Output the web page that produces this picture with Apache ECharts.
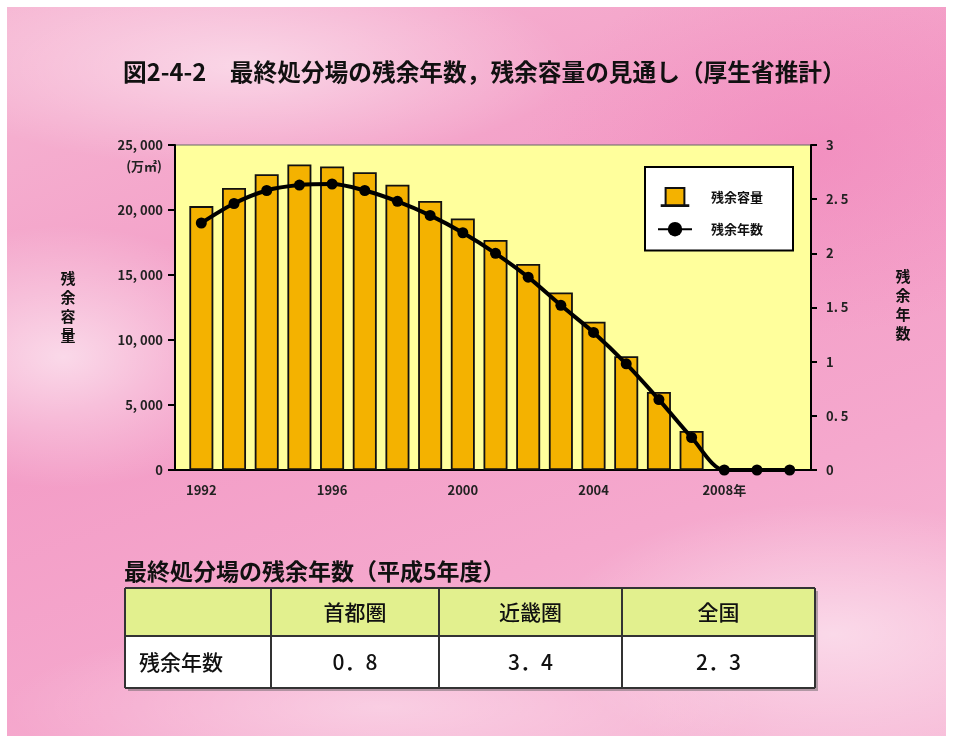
<!DOCTYPE html>
<html lang="ja">
<head>
<meta charset="utf-8">
<title>最終処分場の残余年数，残余容量の見通し</title>
<script src="https://cdn.jsdelivr.net/npm/echarts@6/dist/echarts.min.js"></script>
<style>
  html, body { margin: 0; padding: 0; background: #fff; }
  #frame {
    position: absolute; left: 7px; top: 7px; width: 939px; height: 729px;
    background:
      radial-gradient(ellipse 22% 18% at 6% 48%, rgba(255,255,255,0.6), rgba(255,255,255,0) 100%),
      radial-gradient(ellipse 35% 14% at 25% 8%, rgba(255,255,255,0.5), rgba(255,255,255,0) 100%),
      radial-gradient(ellipse 30% 18% at 88% 86%, rgba(255,255,255,0.5), rgba(255,255,255,0) 100%),
      radial-gradient(ellipse 40% 12% at 40% 96%, rgba(255,255,255,0.4), rgba(255,255,255,0) 100%),
      radial-gradient(ellipse 30% 25% at 85% 20%, rgba(240,120,180,0.35), rgba(240,120,180,0) 100%),
      linear-gradient(160deg, #f6b6d3 0%, #f39cc6 40%, #f5a8cd 70%, #f7bcd8 100%);
  }
  #chart { position: absolute; left: 0; top: 0; width: 956px; height: 740px; }
</style>
</head>
<body>
<div id="frame"></div>
<div id="chart"></div>
<script>
// Fiscal years on the horizontal axis
const years = ['1992', '1993', '1994', '1995', '1996', '1997', '1998', '1999', '2000',
               '2001', '2002', '2003', '2004', '2005', '2006', '2007', '2008', '2009', '2010'];

// Remaining capacity of final disposal sites (万㎡)
const capacity = [20300, 21700, 22750, 23500, 23350, 22900, 21950, 20700, 19350,
                  17700, 15850, 13650, 11400, 8750, 6000, 3000, null, null, null];

// Remaining years of final disposal sites
const remainingYears = [2.28, 2.46, 2.58, 2.63, 2.64, 2.58, 2.48, 2.35, 2.19,
                        2.00, 1.78, 1.52, 1.27, 0.98, 0.65, 0.30, 0, 0, 0];

// Labels shown under the category axis
const xTickLabels = { '1992': '1992', '1996': '1996', '2000': '2000', '2004': '2004', '2008': '2008年' };

// Table: remaining years by region (平成5年度)
const tableRegions = ['首都圏', '近畿圏', '全国'];
const tableValues = [0.8, 3.4, 2.3];

const FONT = '"Noto Sans CJK JP", "Noto Sans", sans-serif';
const chart = echarts.init(document.getElementById('chart'), null, { renderer: 'canvas' });

// Plot frame (yellow area) and data grid
const plot = { left: 175, top: 145, width: 636, height: 325 };
const dataGrid = { left: 185, top: 145, width: 621, height: 325 };

// Table geometry
const colX = [125, 271, 439, 622, 815];
const rowY = [588, 636, 688];

function fmtFull(v) { return String(v).replace('.', '．'); }

const tableGraphics = [];
tableGraphics.push({
  type: 'rect', shape: { x: colX[0] + 3, y: rowY[0] + 3, width: colX[4] - colX[0], height: rowY[2] - rowY[0] },
  style: { fill: 'rgba(90,90,90,0.45)' }, z: 10
});
tableGraphics.push({
  type: 'rect', shape: { x: colX[0], y: rowY[0], width: colX[4] - colX[0], height: rowY[1] - rowY[0] },
  style: { fill: '#e2f08e' }, z: 11
});
tableGraphics.push({
  type: 'rect', shape: { x: colX[0], y: rowY[1], width: colX[4] - colX[0], height: rowY[2] - rowY[1] },
  style: { fill: '#ffffff' }, z: 11
});
// cell borders
for (let i = 0; i < colX.length; i++) {
  tableGraphics.push({ type: 'line', shape: { x1: colX[i], y1: rowY[0], x2: colX[i], y2: rowY[2] },
    style: { stroke: '#333', lineWidth: 2 }, z: 12 });
}
for (let j = 0; j < rowY.length; j++) {
  tableGraphics.push({ type: 'line', shape: { x1: colX[0], y1: rowY[j], x2: colX[4], y2: rowY[j] },
    style: { stroke: '#333', lineWidth: 2 }, z: 12 });
}
tableRegions.forEach(function (name, i) {
  const cx = (colX[i + 1] + colX[i + 2]) / 2;
  tableGraphics.push({ type: 'text', x: cx, y: (rowY[0] + rowY[1]) / 2, z: 13,
    style: { text: name, font: '500 21px ' + FONT, fill: '#111', align: 'center', verticalAlign: 'middle' } });
  tableGraphics.push({ type: 'text', x: cx, y: (rowY[1] + rowY[2]) / 2, z: 13,
    style: { text: fmtFull(tableValues[i]), font: '500 21px ' + FONT, fill: '#111', align: 'center', verticalAlign: 'middle' } });
});
tableGraphics.push({ type: 'text', x: 139, y: (rowY[1] + rowY[2]) / 2, z: 13,
  style: { text: '残余年数', font: '500 21px ' + FONT, fill: '#111', align: 'left', verticalAlign: 'middle' } });
tableGraphics.push({ type: 'text', x: 124, y: 571, z: 13,
  style: { text: '最終処分場の残余年数（平成5年度）', font: 'bold 23px ' + FONT, fill: '#111', align: 'left', verticalAlign: 'middle' } });

const option = {
  backgroundColor: 'transparent',
  animation: false,
  title: {
    text: '図2-4-2　最終処分場の残余年数，残余容量の見通し（厚生省推計）',
    left: 118, top: 55,
    textStyle: { fontFamily: FONT, fontSize: 23.7, fontWeight: 'bold', color: '#111' }
  },
  legend: {
    left: 645, top: 167, orient: 'vertical',
    backgroundColor: '#ffffff', borderColor: '#000', borderWidth: 2,
    padding: [20, 30, 14, 12],
    itemWidth: 34, itemHeight: 18, itemGap: 15,
    textStyle: { fontFamily: FONT, fontSize: 13, fontWeight: 'bold', color: '#111', padding: [0, 0, 0, 14] },
    data: [
      { name: '残余容量', icon: 'path://M5,0 H29 V22 H5 Z M0,22 H34 V23 H0 Z' },
      { name: '残余年数' }
    ]
  },
  grid: [
    Object.assign({ show: false }, dataGrid),
    Object.assign({ show: true, backgroundColor: '#ffff9c', borderColor: '#666', borderWidth: 1 }, plot)
  ],
  xAxis: [
    {
      type: 'category', gridIndex: 0, data: years,
      axisLine: { show: false }, axisTick: { show: false },
      axisLabel: {
        interval: 0, margin: 14, color: '#222', fontFamily: FONT, fontSize: 13, fontWeight: 'bold',
        formatter: function (v) { return xTickLabels[v] || ''; }
      }
    },
    {
      type: 'value', gridIndex: 1, min: 0, max: 1,
      axisLine: { show: true, lineStyle: { color: '#000', width: 2 } },
      axisTick: { show: false }, axisLabel: { show: false }, splitLine: { show: false }
    }
  ],
  yAxis: [
    { type: 'value', gridIndex: 0, min: 0, max: 25000, interval: 5000, show: false },
    { type: 'value', gridIndex: 0, min: 0, max: 3, interval: 0.5, show: false },
    {
      type: 'value', gridIndex: 1, position: 'left', min: 0, max: 25000, interval: 5000,
      axisLine: { show: true, lineStyle: { color: '#000', width: 2 } },
      axisTick: { show: true, length: 7, lineStyle: { color: '#000', width: 2 } },
      axisLabel: { margin: 12, color: '#222', fontFamily: FONT, fontSize: 13, fontWeight: 'bold',
        formatter: function (v) { return v.toLocaleString('en-US').replace(',', ', '); } },
      splitLine: { show: false }
    },
    {
      type: 'value', gridIndex: 1, position: 'right', min: 0, max: 3, interval: 0.5,
      axisLine: { show: true, lineStyle: { color: '#000', width: 2 } },
      axisTick: { show: true, length: 6, lineStyle: { color: '#000', width: 2 } },
      axisLabel: { margin: 15, color: '#222', fontFamily: FONT, fontSize: 13, fontWeight: 'bold',
        formatter: function (v) { return String(v).replace('.', '. '); } },
      splitLine: { show: false }
    }
  ],
  series: [
    {
      name: '残余容量', type: 'bar', xAxisIndex: 0, yAxisIndex: 0,
      data: capacity, barWidth: 24, z: 3,
      itemStyle: { color: '#f4b200', borderColor: '#111', borderWidth: 1.8 }
    },
    {
      name: '残余年数', type: 'line', xAxisIndex: 0, yAxisIndex: 1,
      data: remainingYears, smooth: 0.3, z: 4,
      symbol: 'circle', symbolSize: 11,
      lineStyle: { color: '#000', width: 4 },
      itemStyle: { color: '#000' }
    }
  ],
  graphic: [
    { type: 'text', x: 162, y: 166, style: { text: '(万㎡)', font: 'bold 13px ' + FONT, fill: '#222', align: 'right', verticalAlign: 'middle' } },
    { type: 'text', x: 68, y: 307, style: { text: '残\n余\n容\n量', font: 'bold 15px ' + FONT, fill: '#111', align: 'center', verticalAlign: 'middle', lineHeight: 19 } },
    { type: 'text', x: 903, y: 305, style: { text: '残\n余\n年\n数', font: 'bold 15px ' + FONT, fill: '#111', align: 'center', verticalAlign: 'middle', lineHeight: 19 } }
  ].concat(tableGraphics)
};

chart.setOption(option);
</script>
</body>
</html>
